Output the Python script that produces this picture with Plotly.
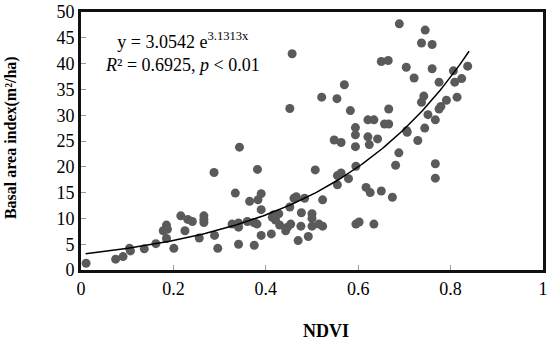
import numpy as np
import plotly.graph_objects as go

ndvi = [0.011, 0.075, 0.091, 0.107, 0.105, 0.137, 0.162, 0.178, 0.185, 0.187,
        0.185, 0.201, 0.216, 0.225, 0.231, 0.241, 0.256, 0.266, 0.266, 0.266,
        0.288, 0.289, 0.296, 0.327, 0.334, 0.341, 0.341, 0.341, 0.343, 0.360,
        0.365, 0.374, 0.375, 0.381, 0.382, 0.383, 0.390, 0.390, 0.390, 0.412,
        0.414, 0.417, 0.421, 0.428, 0.430, 0.443, 0.447, 0.452, 0.454, 0.452,
        0.457, 0.461, 0.466, 0.470, 0.476, 0.477, 0.484, 0.492, 0.500, 0.500,
        0.500, 0.507, 0.515, 0.521, 0.523, 0.523, 0.548, 0.554, 0.555, 0.563,
        0.555, 0.563, 0.570, 0.579, 0.583, 0.594, 0.594, 0.594, 0.595, 0.595,
        0.602, 0.617, 0.621, 0.621, 0.624, 0.626, 0.634, 0.634, 0.642, 0.650,
        0.650, 0.657, 0.666, 0.665, 0.666, 0.674, 0.681, 0.688, 0.689, 0.704,
        0.705, 0.706, 0.721, 0.729, 0.737, 0.737, 0.742, 0.744, 0.745, 0.751,
        0.760, 0.760, 0.767, 0.767, 0.767, 0.775, 0.775, 0.779, 0.791, 0.806,
        0.809, 0.814, 0.824, 0.837]
basal_area = [1.3, 2.1, 2.6, 3.7, 4.2, 4.1, 5.1, 7.6, 8.7, 7.9,
              6.1, 4.2, 10.5, 7.6, 9.8, 9.4, 6.2, 10.5, 9.8, 9.2,
              18.9, 6.7, 4.2, 8.9, 14.9, 8.3, 9.1, 5.0, 23.8, 9.4,
              13.3, 9.2, 4.8, 8.9, 19.5, 13.6, 14.8, 11.7, 6.7, 7.0,
              10.2, 10.7, 9.7, 10.9, 8.7, 7.6, 8.3, 12.2, 8.9, 31.3,
              41.9, 13.9, 14.2, 5.7, 8.5, 11.1, 13.9, 6.5, 10.9, 10.0,
              8.5, 19.4, 8.9, 33.5, 8.5, 13.6, 25.2, 33.2, 18.3, 18.8,
              16.5, 24.7, 35.9, 17.7, 30.9, 27.6, 26.2, 23.9, 20.1, 8.9,
              9.3, 16.0, 29.1, 25.8, 24.3, 15.0, 29.1, 8.9, 25.4, 40.4,
              15.3, 28.3, 28.3, 40.6, 31.2, 14.1, 20.3, 22.7, 47.7, 39.3,
              27.0, 26.7, 37.2, 25.1, 44.0, 32.5, 33.7, 27.5, 46.5, 30.1,
              43.7, 39.0, 29.1, 20.6, 17.8, 36.4, 31.2, 31.7, 32.9, 38.6,
              36.4, 33.5, 37.1, 39.5]

fit_a = 3.0542
fit_b = 3.1313
fit_x_range = [0.01, 0.84]

x_range = [0, 1]
y_range = [0, 50]
x_dtick = 0.2
y_dtick = 5

FONT = "Liberation Serif"

fx = np.linspace(fit_x_range[0], fit_x_range[1], 200)
fy = fit_a * np.exp(fit_b * fx)

fig = go.Figure()
fig.add_trace(go.Scatter(x=ndvi, y=basal_area, mode="markers",
                         marker=dict(color="#5a5a5a", size=9)))
fig.add_trace(go.Scatter(x=fx, y=fy, mode="lines",
                         line=dict(color="black", width=1.5)))

fig.update_xaxes(range=x_range, tick0=0, dtick=x_dtick,
                 showline=True, linewidth=3, linecolor="#111111", mirror=True,
                 ticks="inside", ticklen=5, tickcolor="#999999", tickwidth=1,
                 gridcolor="rgba(255,255,255,0)", zerolinecolor="#111111",
                 tickfont=dict(family=FONT, size=18, color="black"))
fig.update_yaxes(range=y_range, tick0=0, dtick=y_dtick,
                 showline=True, linewidth=3, linecolor="#111111", mirror=True,
                 ticks="inside", ticklen=5, tickcolor="#999999", tickwidth=1,
                 gridcolor="rgba(255,255,255,0)", zerolinecolor="#111111",
                 tickfont=dict(family=FONT, size=18, color="black"))

fig.add_annotation(xref="paper", yref="paper", x=0.22, y=0.94,
                   xanchor="center", yanchor="top",
                   text="y = 3.0542 e<sup>3.1313x</sup><br><i>R</i>² = 0.6925, <i>p</i> &lt; 0.01",
                   showarrow=False, align="center",
                   font=dict(family=FONT, size=18, color="black"))
fig.add_annotation(xref="paper", yref="paper", x=-0.15, y=0.514,
                   text="<b>Basal area index(m²/ha)</b>", textangle=-90,
                   showarrow=False, xanchor="center", yanchor="middle",
                   font=dict(family=FONT, size=16, color="black"))
fig.add_annotation(xref="paper", yref="paper", x=0.53, y=-0.238,
                   text="<b>NDVI</b>", showarrow=False,
                   xanchor="center", yanchor="middle",
                   font=dict(family=FONT, size=18, color="black"))

fig.update_layout(width=550, height=343, margin=dict(l=81, r=7, t=12, b=73),
                  showlegend=False, template="none",
                  plot_bgcolor="white", paper_bgcolor="white")

fig.write_html("out.html", config={"displayModeBar": False},
               post_script="document.body.style.margin='0';")
